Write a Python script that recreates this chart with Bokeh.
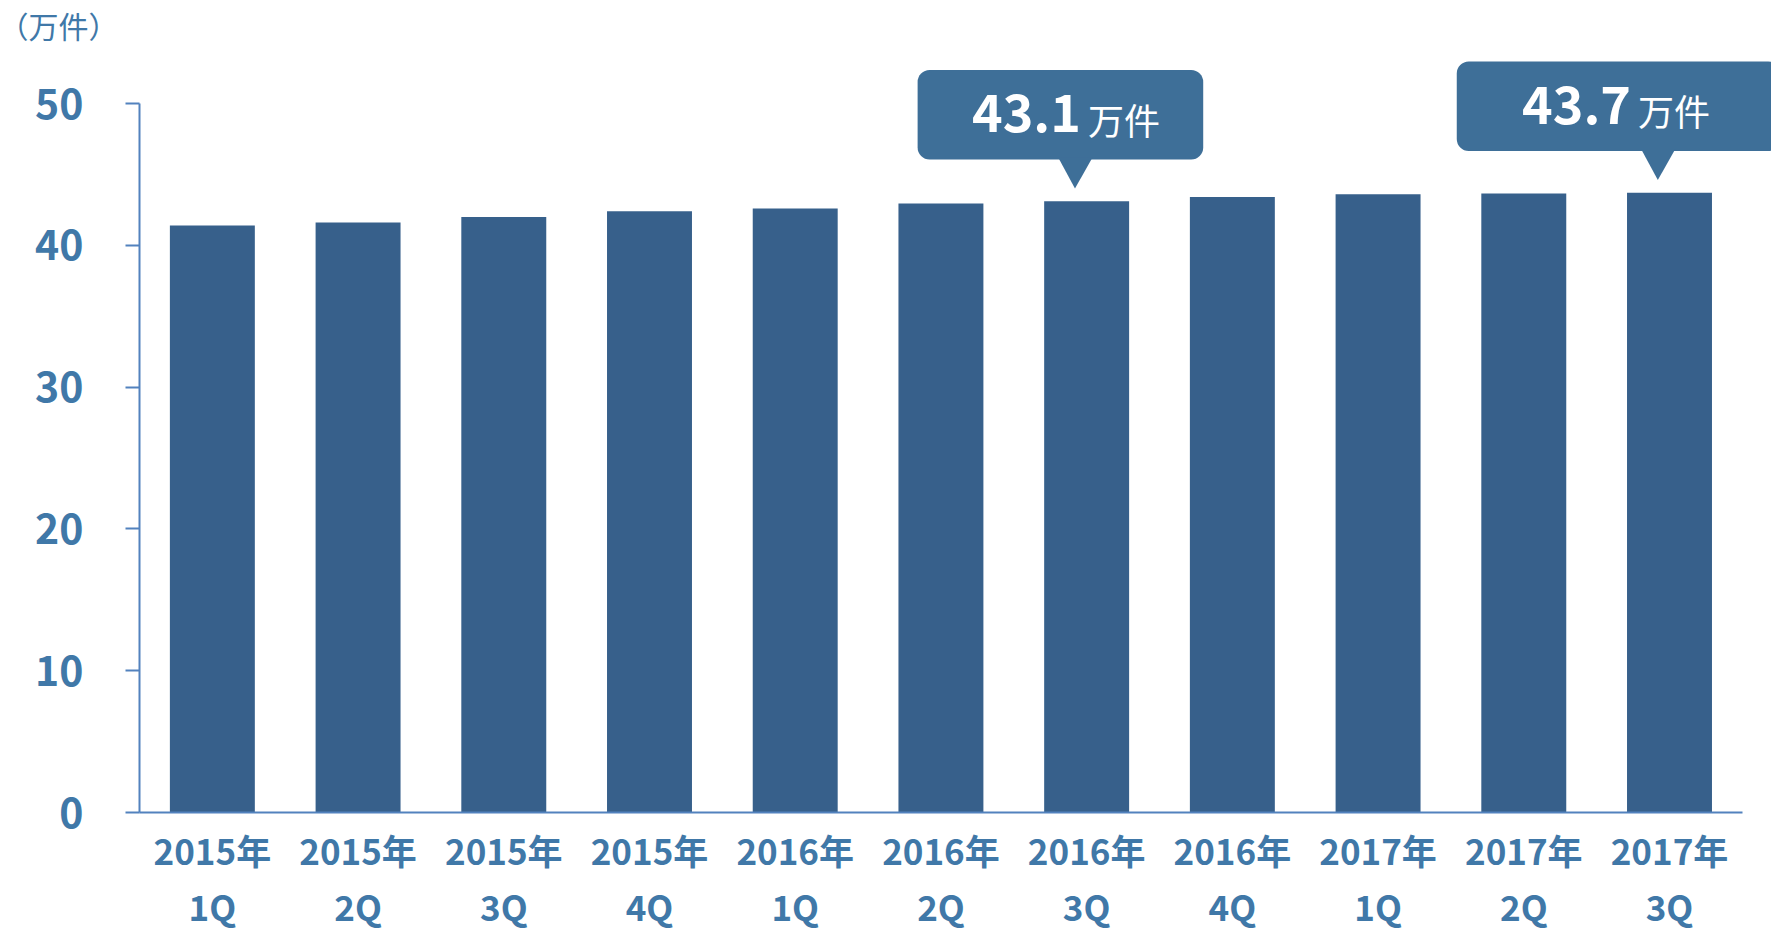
from bokeh.plotting import figure
from bokeh.models import Range1d, FixedTicker, ColumnDataSource, LinearAxis
from bokeh.core.properties import value
from bokeh.embed import file_html
from bokeh.resources import INLINE

# ---- data ----
years = ["2015年", "2015年", "2015年", "2015年", "2016年", "2016年",
         "2016年", "2016年", "2017年", "2017年", "2017年"]
quarters = ["1Q", "2Q", "3Q", "4Q", "1Q", "2Q", "3Q", "4Q", "1Q", "2Q", "3Q"]
counts = [41.4, 41.6, 42.0, 42.4, 42.6, 42.95, 43.1, 43.4, 43.6, 43.65, 43.7]
y_ticks = [0, 10, 20, 30, 40, 50]
unit_label = "（万件）"
callout_index = [6, 10]
callout_text = ["43.1", "43.7"]
callout_unit = "万件"

# ---- styling / layout constants ----
FONT = "Noto Sans CJK JP"
BAR = "#37608b"
BUBBLE = "#3e6f98"
TXT = "#4078a8"
AXIS = "#5282be"
box_left_off = [-1.16, -1.46]
box_right_off = [0.80, 0.76]
text_anchor_off = [-0.012, -0.237]
Y_END = 54.02

xs = list(range(len(counts)))

p = figure(width=1771, height=933,
           x_range=Range1d(-0.5, 10.7), y_range=Range1d(0, Y_END),
           x_axis_type=None, y_axis_type=None,
           output_backend="svg", toolbar_location=None,
           min_border_left=139, min_border_right=0,
           min_border_top=0, min_border_bottom=121)
p.outline_line_color = None
p.background_fill_color = "white"
p.border_fill_color = "white"

# unit caption at top-left
p.title.text = unit_label
p.title.align = "left"
p.title.offset = -141
p.title.standoff = 0
p.title.text_font = FONT
p.title.text_font_size = "30px"
p.title.text_font_style = "normal"
p.title.text_color = TXT

src = ColumnDataSource(dict(x=xs, top=counts))
p.vbar(x="x", top="top", bottom=0, width=0.583, source=src,
       fill_color=BAR, line_color=None)

# y axis
yax = LinearAxis(ticker=FixedTicker(ticks=y_ticks), bounds=(0, 50))
yax.axis_line_color = AXIS
yax.axis_line_width = 2
yax.major_tick_line_color = AXIS
yax.major_tick_line_width = 2
yax.major_tick_out = 14
yax.major_tick_in = 0
yax.minor_tick_line_color = None
yax.major_label_text_font = FONT
yax.major_label_text_font_size = "41px"
yax.major_label_text_font_style = "bold"
yax.major_label_text_color = TXT
yax.major_label_standoff = 42
p.add_layout(yax, "left")

# x axis
xax = LinearAxis(ticker=FixedTicker(ticks=xs), bounds=(-0.6, 10.5))
xax.major_label_overrides = {i: f"{years[i]}\n{quarters[i]}" for i in xs}
xax.axis_line_color = AXIS
xax.axis_line_width = 2
xax.major_tick_line_color = None
xax.major_tick_out = 0
xax.major_tick_in = 0
xax.minor_tick_line_color = None
xax.major_label_text_font = FONT
xax.major_label_text_font_size = "35px"
xax.major_label_text_font_style = "bold"
xax.major_label_text_color = TXT
xax.major_label_text_line_height = 1.1
xax.major_label_standoff = 11
p.add_layout(xax, "below")

# callouts
lefts, rights, bottoms, tops = [], [], [], []
pxs, pys = [], []
nx, ny, ntext = [], [], []
for k, i in enumerate(callout_index):
    v = counts[i]
    lefts.append(i + box_left_off[k])
    rights.append(i + box_right_off[k])
    bottoms.append(v + 2.95)
    tops.append(v + 9.27)
    pxs.append([i - 0.195, i + 0.04, i - 0.08])
    pys.append([v + 3.1, v + 3.1, v + 0.9])
    nx.append(i + text_anchor_off[k])
    ny.append(v + 4.78)
    ntext.append(callout_text[k])

p.quad(left=lefts, right=rights, bottom=bottoms, top=tops,
       fill_color=BUBBLE, line_color=None, border_radius=12)
p.patches(xs=pxs, ys=pys, fill_color=BUBBLE, line_color=None)

tsrc = ColumnDataSource(dict(x=nx, y=ny, t=ntext, u=[callout_unit] * len(nx)))
p.text(x="x", y="y", text="t", source=tsrc, text_align="right",
       text_baseline="alphabetic", x_offset=-4, y_offset=-21,
       text_font=value(FONT), text_font_size="52px", text_font_style="bold",
       text_color="white")
p.text(x="x", y="y", text="u", source=tsrc, text_align="left",
       text_baseline="alphabetic", x_offset=3, y_offset=-15,
       text_font=value(FONT), text_font_size="36px", text_font_style="normal",
       text_color="white")

open("out.html", "w").write(file_html(p, INLINE))
